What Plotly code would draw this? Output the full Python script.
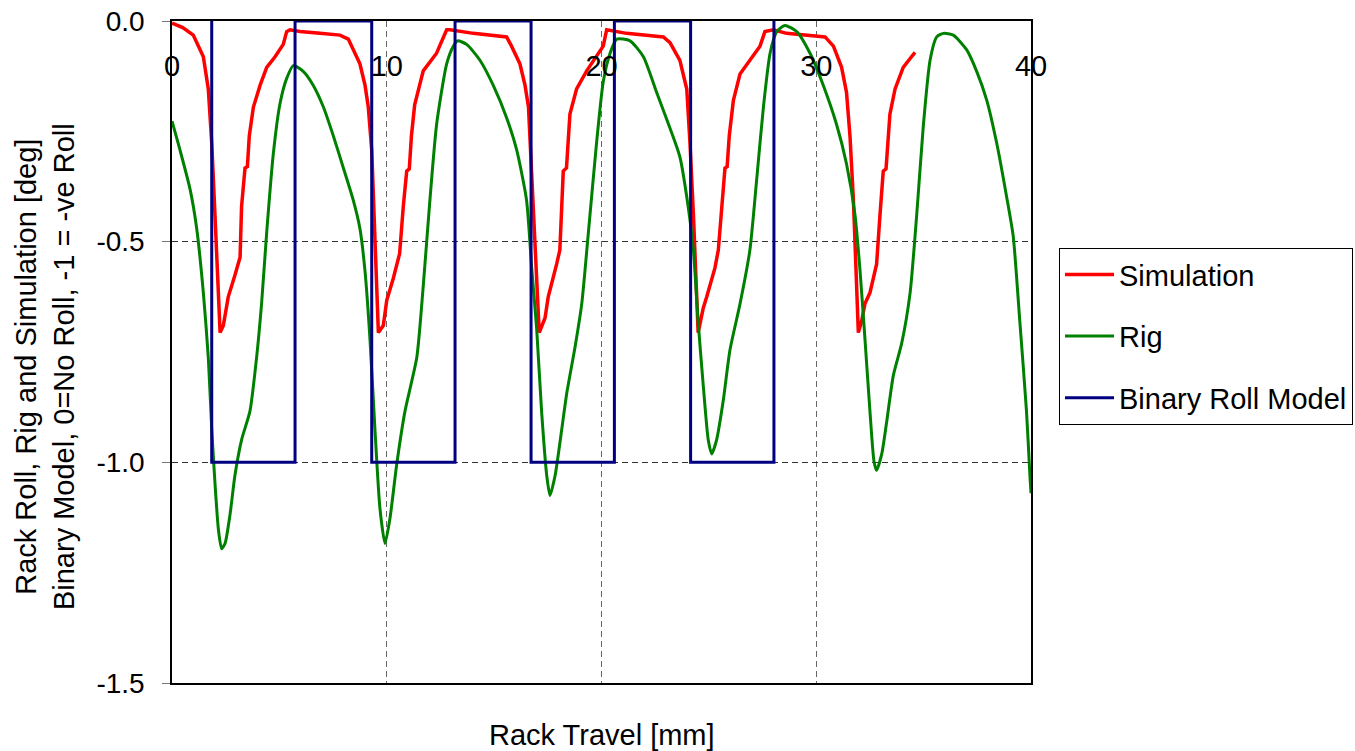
import plotly.graph_objects as go

# ---- data ----
sim_x = [0.0, 0.5, 0.99, 1.46, 1.69, 1.85, 2.0, 2.16, 2.24, 2.39, 2.62, 2.93, 3.17, 3.24, 3.40, 3.51,
         3.60, 3.79, 4.10, 4.41, 4.80, 5.18, 5.34, 5.49, 5.96, 6.89, 7.82, 8.21, 8.44, 8.75, 8.99,
         9.14, 9.30, 9.45, 9.61, 9.84, 10.0, 10.3, 10.6, 10.77, 10.93, 11.05, 11.15, 11.3, 11.7,
         12.32, 12.63, 12.79, 12.95, 14.03, 15.58, 15.81, 16.2, 16.44, 16.6, 16.75, 16.9, 17.1,
         17.37, 17.52, 17.91, 18.06, 18.22, 18.37, 18.53, 18.84, 19.31, 19.77, 20.08, 20.24, 21.17,
         22.88, 23.19, 23.65, 23.97, 24.12, 24.28, 24.5, 24.74, 24.9, 25.28, 25.44, 25.6, 25.75,
         25.85, 25.95, 26.14, 26.45, 26.91, 27.38, 27.61, 28.0, 28.62, 29.55, 30.41, 30.8, 31.18,
         31.41, 31.57, 31.73, 31.85, 31.96, 32.11, 32.27, 32.5, 32.81, 32.97, 33.12, 33.25, 33.43,
         33.67, 34.05, 34.37, 34.6]
sim_y = [-0.005, -0.015, -0.032, -0.081, -0.154, -0.276, -0.438, -0.60, -0.706, -0.69, -0.625, -0.576,
         -0.535, -0.42, -0.333, -0.33, -0.26, -0.195, -0.146, -0.105, -0.081, -0.053, -0.024, -0.02,
         -0.024, -0.028, -0.032, -0.041, -0.065, -0.097, -0.146, -0.195, -0.292, -0.478, -0.706,
         -0.69, -0.633, -0.584, -0.527, -0.42, -0.34, -0.335, -0.26, -0.19, -0.113, -0.073, -0.041,
         -0.02, -0.02, -0.028, -0.036, -0.057, -0.097, -0.146, -0.195, -0.357, -0.519, -0.706,
         -0.673, -0.625, -0.551, -0.519, -0.34, -0.333, -0.211, -0.154, -0.113, -0.081, -0.057,
         -0.02, -0.028, -0.036, -0.049, -0.089, -0.154, -0.276, -0.438, -0.706, -0.65, -0.625,
         -0.56, -0.519, -0.42, -0.333, -0.33, -0.26, -0.18, -0.12, -0.089, -0.057, -0.024, -0.02,
         -0.028, -0.032, -0.036, -0.057, -0.105, -0.162, -0.26, -0.405, -0.56, -0.706, -0.681,
         -0.64, -0.616, -0.551, -0.438, -0.34, -0.335, -0.211, -0.154, -0.105, -0.085, -0.071]

rig_x = [0.0, 0.37, 0.84, 1.15, 1.46, 1.69, 1.85, 2.0, 2.16, 2.31, 2.47, 2.70, 2.93, 3.24, 3.63,
         3.94, 4.17, 4.41, 4.72, 5.03, 5.34, 5.65, 6.11, 6.58, 7.05, 7.51, 7.98, 8.44, 8.75, 8.99,
         9.22, 9.45, 9.68, 9.92, 10.15, 10.46, 10.85, 11.40, 11.7, 12.01, 12.32, 12.79, 13.1, 13.3,
         13.72, 14.34, 14.96, 15.58, 16.05, 16.51, 16.75, 16.98, 17.21, 17.45, 17.60, 17.84, 18.15,
         18.38, 18.77, 19.08, 19.39, 19.77, 20.08, 20.4, 20.71, 21.33, 21.95, 22.57, 23.19, 23.65,
         24.04, 24.28, 24.5, 24.74, 24.97, 25.13, 25.36, 25.67, 25.98, 26.45, 26.91, 27.23, 27.54,
         27.85, 28.16, 28.54, 29.09, 29.71, 30.33, 30.95, 31.41, 31.8, 32.03, 32.27, 32.5, 32.69,
         32.81, 33.05, 33.28, 33.59, 33.98, 34.37, 34.68, 34.99, 35.3, 35.61, 35.92, 36.38, 37.0,
         37.47, 37.93, 38.4, 38.86, 39.17, 39.48, 39.79, 39.95, 40.0]
rig_y = [-0.227, -0.292, -0.381, -0.47, -0.616, -0.762, -0.925, -1.046, -1.152, -1.196, -1.184,
         -1.119, -1.03, -0.949, -0.884, -0.762, -0.641, -0.479, -0.30, -0.187, -0.13, -0.101,
         -0.114, -0.146, -0.195, -0.26, -0.333, -0.406, -0.47, -0.568, -0.722, -0.925, -1.103,
         -1.184, -1.127, -1.006, -0.884, -0.762, -0.6, -0.406, -0.235, -0.097, -0.057, -0.045,
         -0.053, -0.089, -0.146, -0.219, -0.292, -0.406, -0.56, -0.697, -0.884, -1.03, -1.075,
         -1.03, -0.925, -0.844, -0.738, -0.641, -0.479, -0.276, -0.138, -0.073, -0.041, -0.045,
         -0.081, -0.162, -0.243, -0.308, -0.422, -0.519, -0.681, -0.827, -0.949, -0.981, -0.949,
         -0.86, -0.746, -0.641, -0.519, -0.357, -0.195, -0.073, -0.024, -0.01, -0.024, -0.073,
         -0.146, -0.235, -0.324, -0.438, -0.56, -0.722, -0.884, -0.998, -1.018, -0.981, -0.908,
         -0.803, -0.73, -0.616, -0.438, -0.235, -0.089, -0.036, -0.028, -0.032, -0.065, -0.114,
         -0.178, -0.276, -0.397, -0.487, -0.681, -0.884, -1.03, -1.07]

bin_x = [1.85, 1.85, 5.73, 5.73, 9.30, 9.30, 13.18, 13.18, 16.72, 16.72, 20.6, 20.6,
         24.15, 24.15, 28.03, 28.03]
bin_y = [0, -1, -1, 0, 0, -1, -1, 0, 0, -1, -1, 0, 0, -1, -1, 0]

x_ticks = [0, 10, 20, 30, 40]
y_ticks = [0.0, -0.5, -1.0, -1.5]
y_tick_text = ["0.0", "-0.5", "-1.0", "-1.5"]

FONT = "Liberation Sans, Arial, sans-serif"

fig = go.Figure()
fig.add_trace(go.Scatter(x=sim_x, y=sim_y, mode="lines", name="Simulation",
                         line=dict(color="#ff0000", width=3.5), legendgroup="a"))
fig.add_trace(go.Scatter(x=rig_x, y=rig_y, mode="lines", name="Rig",
                         line=dict(color="#008000", width=3, shape="spline", smoothing=0.6),
                         legendgroup="b"))
fig.add_trace(go.Scatter(x=bin_x, y=bin_y, mode="lines", name="Binary Roll Model",
                         line=dict(color="#000080", width=3), legendgroup="c"))

fig.update_layout(
    width=1355, height=751,
    margin=dict(l=172, r=324, t=21, b=68, autoexpand=False),
    paper_bgcolor="white", plot_bgcolor="white",
    font=dict(family=FONT, color="black", size=26),
    showlegend=True,
    legend=dict(x=1.0326, y=0.657, xanchor="left", yanchor="top",
                bordercolor="black", borderwidth=1, bgcolor="white",
                font=dict(size=29, family=FONT, color="black"), tracegroupgap=21,
                itemwidth=49),
    xaxis=dict(range=[0, 40], side="top", tickvals=x_ticks, ticktext=[str(v) for v in x_ticks],
               ticklabelposition="inside", ticklabeloverflow="allow", ticks="",
               ticklabelstandoff=38, automargin=False,
               tickfont=dict(size=29, family=FONT, color="black"),
               showline=True, linecolor="black", linewidth=1.5, mirror=True,
               showgrid=True, gridcolor="#666666", gridwidth=1, griddash="6px,4px",
               zeroline=False),
    yaxis=dict(range=[-1.5, 0], tickvals=y_ticks, ticktext=y_tick_text,
               ticks="outside", ticklen=8, tickcolor="#777777", tickwidth=1,
               ticklabelstandoff=12, automargin=False,
               tickfont=dict(size=28, family=FONT, color="black"),
               showline=True, linecolor="black", linewidth=1.5, mirror=True,
               showgrid=True, gridcolor="#333333", gridwidth=1, griddash="6px,4px",
               zeroline=False),
    annotations=[
        dict(text="Rack Travel [mm]", xref="paper", yref="paper", x=0.5, y=0,
             xanchor="center", yanchor="top", yshift=-34, showarrow=False,
             font=dict(size=29, family=FONT, color="black")),
        dict(text="Rack Roll, Rig and Simulation [deg]<br>Binary Model, 0=No Roll, -1 = -ve Roll",
             xref="paper", yref="paper", x=-0.1478, y=0.4773, xanchor="center", yanchor="middle",
             textangle=-90, showarrow=False, font=dict(size=29, family=FONT, color="black")),
    ],
)

fig.write_html("out.html")
